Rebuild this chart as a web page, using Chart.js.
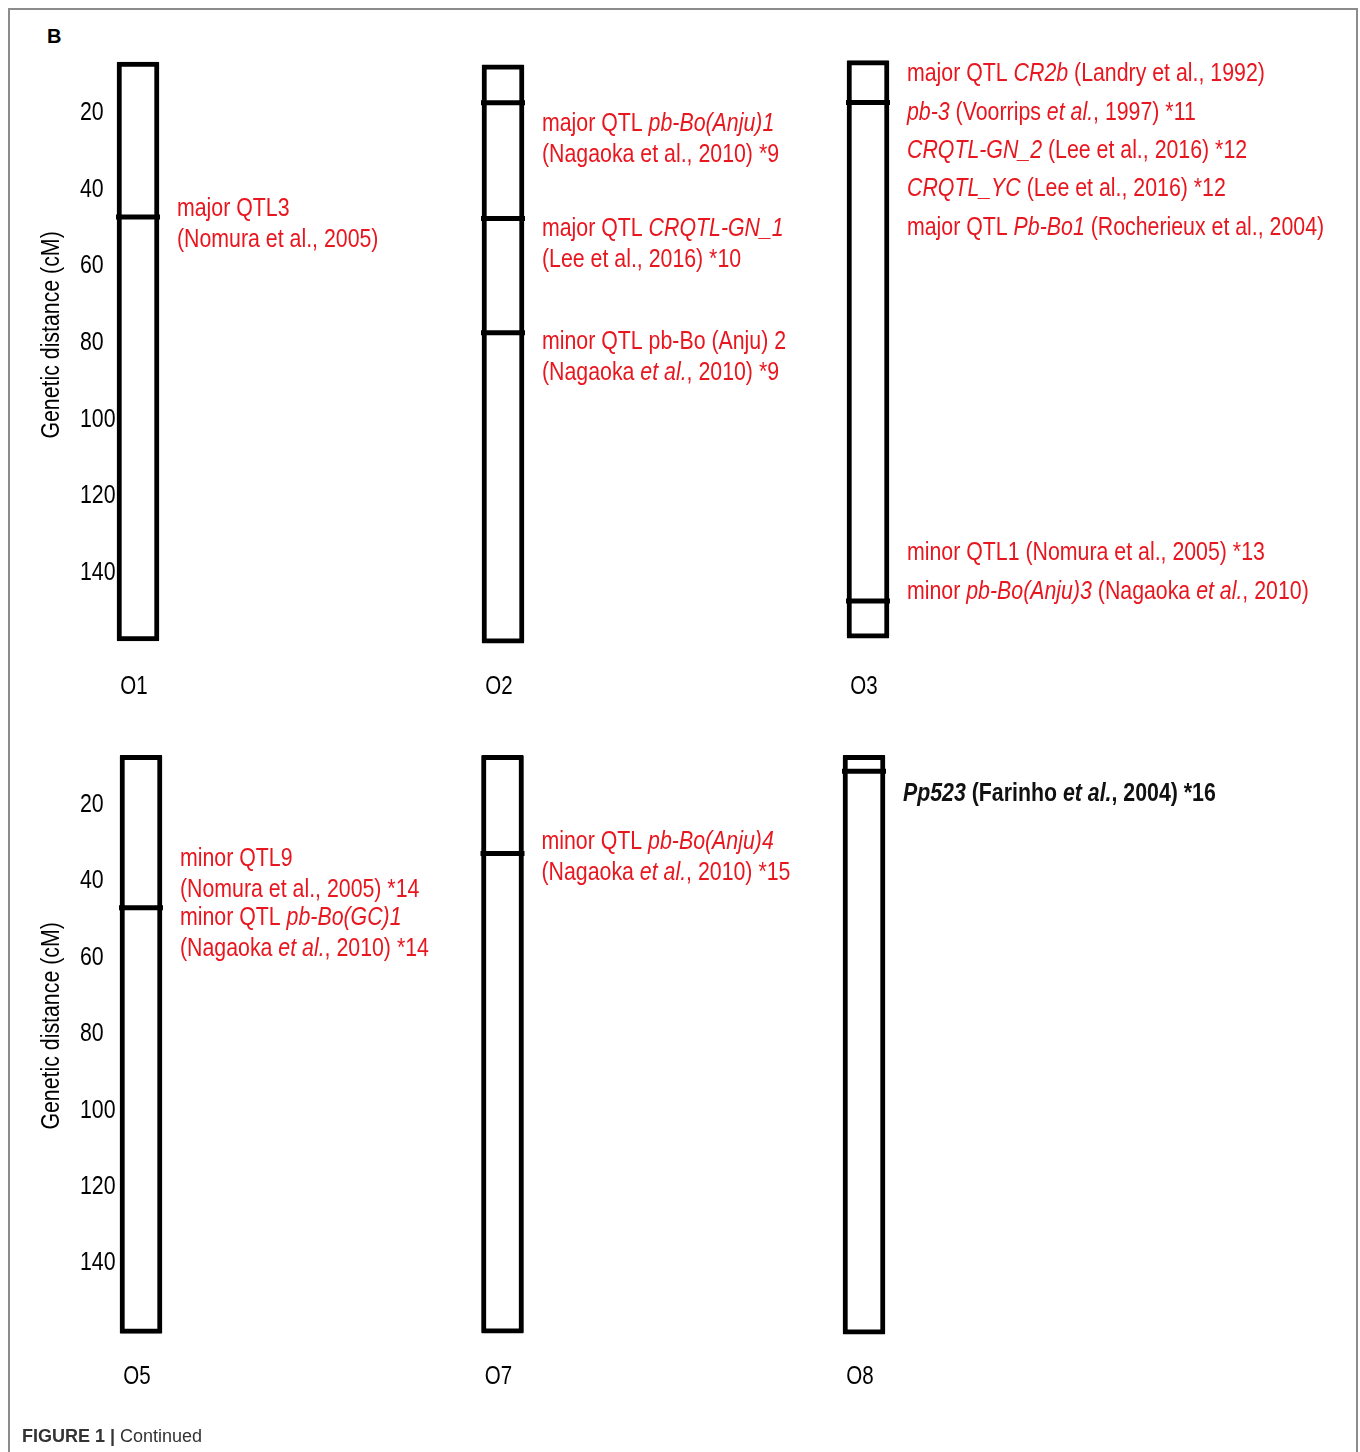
<!DOCTYPE html>
<html>
<head>
<meta charset="utf-8">
<script src="https://cdn.jsdelivr.net/npm/chart.js@4.4.1/dist/chart.umd.min.js"></script>
<style>
  body { margin: 0; background: #fff; }
  #page { position: relative; width: 1360px; height: 1452px; overflow: hidden; }
  #frame { position: absolute; left: 8px; top: 8px; width: 1346px; height: 1480px; border: 2px solid #8c8c8c; }
  canvas { position: absolute; left: 0; }
  #panel { position: absolute; left: 47px; top: 25px; font: bold 20px 'Liberation Sans', Arial, sans-serif; color: #000; }
  #caption { position: absolute; left: 22px; top: 1426px; font: 18px 'Liberation Sans', Arial, sans-serif; color: #333; }
</style>
</head>
<body>
<div id="page">
  <div id="frame"></div>
  <div id="panel">B</div>
  <canvas id="topChart" width="1360" height="700" style="top:0"></canvas>
  <canvas id="bottomChart" width="1360" height="752" style="top:700px"></canvas>
  <div id="caption"><b>FIGURE 1 |</b> Continued</div>
</div>
<script>
// linkage groups (chromosomes) and their extent in cM
var topChroms = ['O1', 'O2', 'O3'];
var topSpans = [[7.0, 158.0], [7.7, 158.6], [6.6, 157.3]];
var bottomChroms = ['O5', 'O7', 'O8'];
var bottomSpans = [[7.4, 158.6], [7.4, 158.5], [7.4, 158.8]];

// marker positions (cM)
var topMarkerChrom = ['O1', 'O2', 'O2', 'O2', 'O3', 'O3'];
var topMarkerCM = [47.4, 17.6, 47.8, 77.6, 17.5, 147.6];
var bottomMarkerChrom = ['O5', 'O7', 'O8'];
var bottomMarkerCM = [47.3, 33.1, 11.6];

var yTicks = [20, 40, 60, 80, 100, 120, 140];
var yTitle = 'Genetic distance (cM)';

// QTL / gene notes, {..} = italic. "at" = cM of first line
var topNotes = [
  { chrom: 'O1', at: 45.3, trait: 'clubroot', lines: ['major QTL3', '(Nomura et al., 2005)'] },
  { chrom: 'O2', at: 23.0, trait: 'clubroot', lines: ['major QTL {pb-Bo(Anju)1}', '(Nagaoka et al., 2010) *9'] },
  { chrom: 'O2', at: 50.4, trait: 'clubroot', lines: ['major QTL {CRQTL-GN_1}', '(Lee et al., 2016) *10'] },
  { chrom: 'O2', at: 79.9, trait: 'clubroot', lines: ['minor QTL pb-Bo (Anju) 2', '(Nagaoka {et al.}, 2010) *9'] },
  { chrom: 'O3', at: 10.1, trait: 'clubroot', lines: ['major QTL {CR2b} (Landry et al., 1992)'] },
  { chrom: 'O3', at: 20.3, trait: 'clubroot', lines: ['{pb-3} (Voorrips {et al.}, 1997) *11'] },
  { chrom: 'O3', at: 30.2, trait: 'clubroot', lines: ['{CRQTL-GN_2} (Lee et al., 2016) *12'] },
  { chrom: 'O3', at: 40.1, trait: 'clubroot', lines: ['{CRQTL_YC} (Lee et al., 2016) *12'] },
  { chrom: 'O3', at: 50.3, trait: 'clubroot', lines: ['major QTL {Pb-Bo1} (Rocherieux et al., 2004)'] },
  { chrom: 'O3', at: 135.1, trait: 'clubroot', lines: ['minor QTL1 (Nomura et al., 2005) *13'] },
  { chrom: 'O3', at: 145.2, trait: 'clubroot', lines: ['minor {pb-Bo(Anju)3} (Nagaoka {et al.}, 2010)'] }
];
var bottomNotes = [
  { chrom: 'O5', at: 34.6, trait: 'clubroot', lines: ['minor QTL9', '(Nomura et al., 2005) *14'] },
  { chrom: 'O5', at: 50.0, trait: 'clubroot', lines: ['minor QTL {pb-Bo(GC)1}', '(Nagaoka {et al.}, 2010) *14'] },
  { chrom: 'O7', at: 30.1, trait: 'clubroot', lines: ['minor QTL {pb-Bo(Anju)4}', '(Nagaoka {et al.}, 2010) *15'] },
  { chrom: 'O8', at: 17.6, trait: 'downy', lines: ['{Pp523} (Farinho {et al.}, 2004) *16'] }
];

var FONT = "'Liberation Sans', Arial, sans-serif";
var NARROW = 0.82; // figure uses Arial Narrow
var traitColor = { clubroot: '#e8161e', downy: '#111' };
var traitWeight = { clubroot: '', downy: 'bold ' };

function parts(str) {
  var out = [], italic = false;
  str.split(/([{}])/).forEach(function(p) {
    if (p === '{') { italic = true; return; }
    if (p === '}') { italic = false; return; }
    if (p) out.push({ t: p, italic: italic });
  });
  return out;
}

// narrow text: draws str at (x,y) with align left/right/center, optional rotation
function narrowText(ctx, str, x, y, size, align, weight, rot) {
  var segs = parts(str);
  var fontOf = function(s) { return (s.italic ? 'italic ' : '') + (weight || '') + size + 'px ' + FONT; };
  var w = 0;
  segs.forEach(function(s) { ctx.font = fontOf(s); w += ctx.measureText(s.t).width; });
  ctx.save();
  ctx.translate(x, y);
  if (rot) ctx.rotate(rot);
  ctx.scale(NARROW, 1);
  ctx.textAlign = 'left';
  ctx.textBaseline = 'middle';
  var cx = align === 'right' ? -w : align === 'center' ? -w / 2 : 0;
  segs.forEach(function(s) {
    ctx.font = fontOf(s);
    ctx.fillText(s.t, cx, 0);
    cx += ctx.measureText(s.t).width;
  });
  ctx.restore();
}

var textPlugin = {
  id: 'figtext',
  afterDraw: function(chart, args, opts) {
    var ctx = chart.ctx;
    var xs = chart.scales.x, ys = chart.scales.y, area = chart.chartArea;
    ctx.save();
    // y ticks (left aligned, as in the figure) and title
    ctx.fillStyle = '#000';
    ys.ticks.forEach(function(t) {
      narrowText(ctx, String(t.value), 80, ys.getPixelForValue(t.value) + 1, 26, 'left');
    });
    narrowText(ctx, yTitle, 52, (area.top + area.bottom) / 2 - 7, 26, 'center', '', -Math.PI / 2);
    // chromosome names
    opts.chroms.forEach(function(c, i) {
      narrowText(ctx, c, xs.getPixelForValue(i) - 4, area.bottom + 38.5, 25, 'center');
    });
    // QTL notes
    opts.notes.forEach(function(n) {
      var x = xs.getPixelForValue(opts.chroms.indexOf(n.chrom)) + 21 + 18;
      var y = ys.getPixelForValue(n.at);
      ctx.fillStyle = traitColor[n.trait];
      n.lines.forEach(function(line, i) {
        narrowText(ctx, line, x, y + i * 31, 26, 'left', traitWeight[n.trait]);
      });
    });
    ctx.restore();
  }
};

function makeChart(id, chroms, spans, mChrom, mCM, notes, lay) {
  var markers = mChrom.map(function(c, i) { return { x: c, y: mCM[i] }; });
  return new Chart(document.getElementById(id), {
    type: 'bar',
    data: {
      labels: chroms,
      datasets: [{
        type: 'line',
        data: markers,
        showLine: false,
        pointStyle: 'line',
        pointRadius: 22,
        pointBorderWidth: 5,
        pointBorderColor: '#000',
        borderColor: '#000',
        clip: false,
        order: 0
      }, {
        data: spans,
        backgroundColor: '#fff',
        borderColor: '#000',
        borderWidth: 5,
        borderSkipped: false,
        borderRadius: 1,
        barThickness: 42,
        clip: false,
        order: 1
      }]
    },
    options: {
      responsive: false,
      animation: false,
      events: [],
      layout: { padding: lay.padding },
      plugins: {
        legend: { display: false },
        tooltip: { enabled: false },
        figtext: { notes: notes, chroms: chroms }
      },
      scales: {
        x: {
          type: 'category',
          offset: false,
          afterFit: function(s) { s.height = 40; },
          grid: { display: false, drawTicks: false },
          border: { display: false },
          ticks: { display: false }
        },
        y: {
          type: 'linear',
          reverse: true,
          min: 0,
          max: 160,
          afterBuildTicks: function(s) { s.ticks = yTicks.map(function(v) { return { value: v }; }); },
          afterFit: function(s) { s.width = lay.yWidth; },
          grid: { display: false, drawTicks: false },
          border: { display: false },
          ticks: { display: false }
        }
      }
    },
    plugins: [textPlugin]
  });
}

makeChart('topChart', topChroms, topSpans, topMarkerChrom, topMarkerCM, topNotes,
  { padding: { left: 30, top: 35.3, right: 492, bottom: 11.4 }, yWidth: 108 });
makeChart('bottomChart', bottomChroms, bottomSpans, bottomMarkerChrom, bottomMarkerCM, bottomNotes,
  { padding: { left: 30, top: 25.5, right: 496, bottom: 73.2 }, yWidth: 111 });
</script>
</body>
</html>
